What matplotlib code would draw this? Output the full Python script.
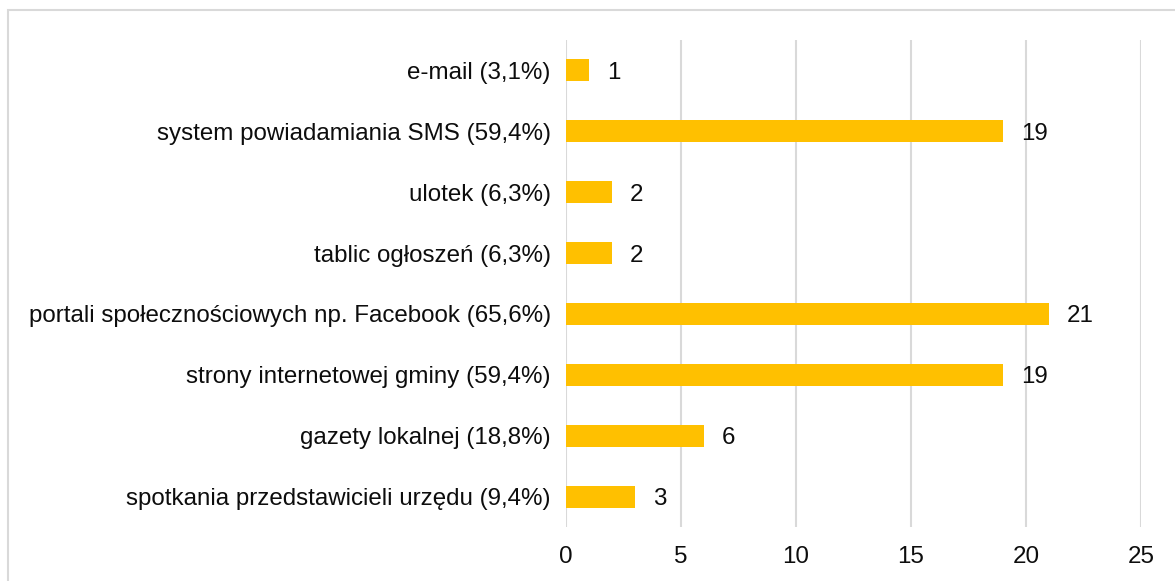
import matplotlib.pyplot as plt
from matplotlib.patches import Rectangle

categories = [
    "spotkania przedstawicieli urzędu (9,4%)",
    "gazety lokalnej (18,8%)",
    "strony internetowej gminy (59,4%)",
    "portali społecznościowych np. Facebook (65,6%)",
    "tablic ogłoszeń (6,3%)",
    "ulotek (6,3%)",
    "system powiadamiania SMS (59,4%)",
    "e-mail (3,1%)",
]
counts = [3, 6, 19, 21, 2, 2, 19, 1]
x_ticks = [0, 5, 10, 15, 20, 25]

plt.rcParams['font.family'] = ['Liberation Sans', 'DejaVu Sans']
text_color = '#0d0d0d'
fs = 17.4

fig = plt.figure(figsize=(11.75, 5.81), dpi=100)
ax = fig.add_axes([566 / 1175, 1 - 527 / 581, 575 / 1175, 487 / 581])

y = list(range(len(categories)))
ax.barh(y, counts, height=0.36, color='#FFC000', zorder=3)
for yi, v in zip(y, counts):
    ax.text(v + 0.78, yi, str(v), va='center_baseline', ha='left',
            fontsize=fs, color=text_color)

ax.set_xlim(0, 25)
ax.set_ylim(-0.5, len(categories) - 0.5)
ax.set_xticks(x_ticks)
ax.set_xticklabels([str(t) for t in x_ticks])
ax.set_yticks(y)
ax.set_yticklabels(categories)
ax.tick_params(axis='both', length=0, labelsize=fs, colors=text_color)
ax.tick_params(axis='x', pad=14)
ax.tick_params(axis='y', pad=11)
ax.grid(axis='x', color='#d9d9d9', linewidth=1.5, zorder=0)
for side in ax.spines.values():
    side.set_visible(False)

# thin frame around the chart area
fig.patches.append(Rectangle((8 / 1175, -0.1), 1.2, 1 - 10 / 581 + 0.1,
                             transform=fig.transFigure, fill=False,
                             edgecolor='#d9d9d9', linewidth=1.5))

fig.savefig('out.png', dpi=100)
